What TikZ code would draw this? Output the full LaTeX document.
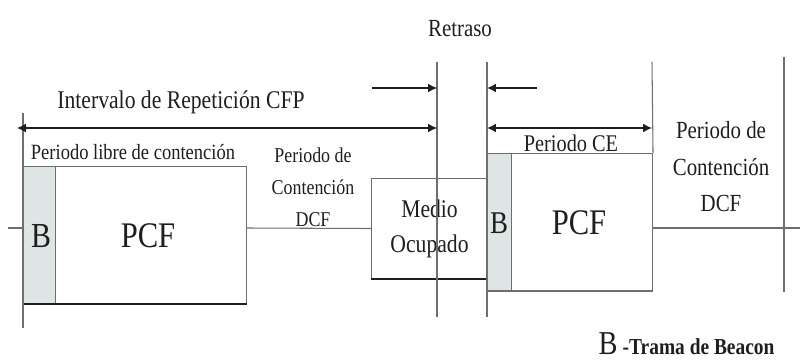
\documentclass[tikz,border=0pt]{standalone}
\usepackage{fontspec}
\setmainfont{Liberation Serif}[FakeStretch=0.85]
\usetikzlibrary{arrows.meta}
\definecolor{beaconfill}{RGB}{222,229,229}
\definecolor{linegray}{RGB}{110,110,110}
\definecolor{inkgray}{RGB}{30,30,30}

\begin{document}
\begin{tikzpicture}[x=0.02cm, y=-0.02cm, line width=0.6pt,
        every node/.style={inner sep=0pt, text=inkgray},
        frame/.style={draw=linegray, fill=white, anchor=north west},
        beacon/.style={frame, fill=beaconfill},
        dim/.style={draw=inkgray, line width=0.8pt},
        tip/.tip={Latex[length=5pt,width=5pt]}]
        \useasboundingbox (0,0) rectangle (800,361);
        \coordinate (base-start) at (8,228);
        \coordinate (base-end) at (800,228);
        \coordinate (l-top) at (23,113);
        \coordinate (l-bot) at (23,328);
        \coordinate (dl-top) at (437,62);
        \coordinate (dl-bot) at (437,317);
        \coordinate (dr-top) at (487,62);
        \coordinate (dr-bot) at (487,317);
        \coordinate (ce-top) at (652,62);
        \coordinate (r-top) at (784,57);
        \coordinate (r-bot) at (784,292);
        \coordinate (cfp-start) at (17,128);
        \coordinate (ret-l) at (372,88);
        \coordinate (ret-r) at (537,88);
        \node[beacon, minimum width=0.64cm, minimum height=2.74cm] (b1) at (23,166) {};
        \node[frame, minimum width=3.82cm, minimum height=2.74cm] (pcf1) at (55,166) {};
        \node[frame, minimum width=2.32cm, minimum height=2cm, align=center,
            font=\fontsize{14.5}{20}\selectfont] (medio) at (371,178) {Medio\\Ocupado};
        \node[beacon, minimum width=0.48cm, minimum height=2.74cm] (b2) at (487,153) {};
        \node[frame, minimum width=2.82cm, minimum height=2.74cm] (pcf2) at (511,153) {};
        \node[font=\fontsize{20}{20}\selectfont] (b1-lbl) at (41,236) {B};
        \node[font=\fontsize{20.5}{20.5}\selectfont] (pcf1-lbl) at (148,236) {PCF};
        \node[font=\fontsize{18}{18}\selectfont] (b2-lbl) at (499,223) {B};
        \node[font=\fontsize{20.5}{20.5}\selectfont] (pcf2-lbl) at (579,223) {PCF};
        \draw[inkgray, line width=1.2pt] (b1.south west) -- (pcf1.south east);
        \draw[inkgray, line width=1.2pt] (medio.south west) -- (medio.south east);
        \draw[linegray, line width=0.9pt] (b2.south west) -- (pcf2.south east);
        \draw[linegray] (base-start) -- (b1.west |- base-start);
        \draw[linegray] (pcf1.east |- base-start) -- (medio.west);
        \draw[linegray] (pcf2.east |- base-start) -- (base-end);
        \draw[linegray] (l-top) -- (l-bot);
        \draw[linegray] (dl-top) -- (dl-bot);
        \draw[linegray] (dr-top) -- (dr-bot);
        \draw[linegray] (ce-top) -- (pcf2.north east);
        \draw[linegray] (r-top) -- (r-bot);
        \draw[dim, tip-tip] (cfp-start) -- (dl-top |- cfp-start);
        \draw[dim, -tip] (ret-l) -- (dl-top |- ret-l);
        \draw[dim, -tip] (ret-r) -- (dr-top |- ret-r);
        \draw[dim, tip-tip] (dr-top |- cfp-start) -- (ce-top |- cfp-start);
        \node[font=\fontsize{14}{14}\selectfont] (retraso) at (460,29) {Retraso};
        \node[font=\fontsize{14.5}{14.5}\selectfont] (cfp) at (181,102) {Intervalo de Repetición CFP};
        \node[font=\fontsize{12.4}{12.4}\selectfont] (libre) at (133,152) {Periodo libre de contención};
        \node[font=\fontsize{12}{18.2}\selectfont, align=center] (dcf1) at (313,187) {Periodo de\\Contención\\DCF};
        \node[font=\fontsize{13.6}{13.6}\selectfont] (ce) at (571,143) {Periodo CE};
        \node[font=\fontsize{14}{20.8}\selectfont, align=center] (dcf2) at (721,167) {Periodo de\\Contención\\DCF};
        \node[anchor=base west] (key) at (598,354)
            {\fontsize{19}{19}\selectfont B\hspace{3pt}\bfseries\fontsize{13}{13}\selectfont -Trama de Beacon};
    \end{tikzpicture}
\end{document}
